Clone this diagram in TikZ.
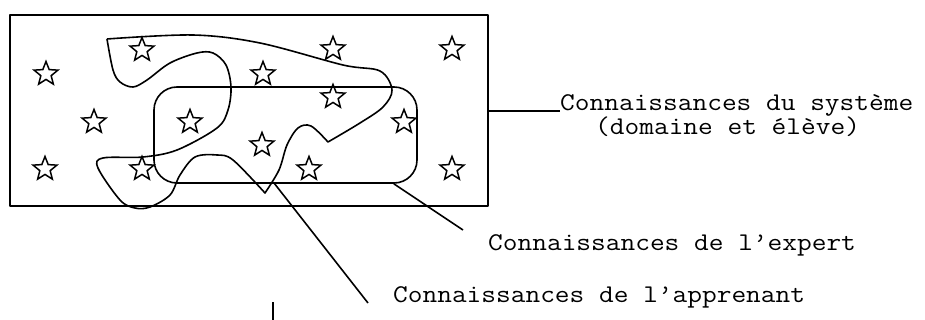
\documentclass[tikz,border=0pt]{standalone}
\usepackage{fontspec}
\newfontfamily\monofont[FakeStretch=1.12]{Latin Modern Mono}
\usetikzlibrary{shapes.geometric}
\tikzset{
  starmark/.style={star, star points=5, star point ratio=2.3, draw, minimum size=25pt, inner sep=0pt, line width=1.5pt},
  lbl/.style={anchor=base west, inner sep=0pt, font=\monofont\fontsize{25.5}{30}\selectfont},
  ln/.style={line width=1.6pt, line join=round},
}
\begin{document}
\begin{tikzpicture}[x=1pt, y=-1pt]
\useasboundingbox (0,0) rectangle (925,320);
% outer rectangle
\node[ln, draw, minimum width=478pt, minimum height=191pt, inner sep=0pt] (outer) at (249,110.5) {};
% expert rounded rectangle
\node[ln, draw, rounded corners=23pt, minimum width=263pt, minimum height=96pt, inner sep=0pt] (inner) at (285.5,135) {};
% stars
\foreach \p [count=\i] in {(142,50),(333,49),(452,49),(46,74),(263,74),(333,97),(94,122),(190,122),(404,122),(262,145),(45,169),(142,169),(309,169),(452,169)}
  \node[starmark] (s\i) at \p {};
% learner blob
\draw[ln] plot[smooth, tension=0.55] coordinates {(107,39) (193,35) (260,43) (343,65) (380,71) (392,90) (383,107) (360,123) (328,142)}
  -- plot[smooth, tension=0.55] coordinates {(328,142) (311,126) (298,128) (287,145) (279,170) (265,193)}
  -- plot[smooth, tension=0.55] coordinates {(265,193) (233,160) (217,155) (195,157) (180,175) (170,195) (150,207) (135,208) (120,200) (98,168) (103,158) (143,157) (177,150) (217,128) (228,110) (231,87) (226,65) (213,53) (197,53) (170,63) (147,80) (133,87) (120,82) (113,70) (107,39)};
% labels
\node[lbl] (sys1) at (560,111) {Connaissances du système};
\node[lbl] (sys2) at (595,135) {(domaine et élève)};
\node[lbl] (expert) at (488,251) {Connaissances de l’expert};
\node[lbl] (learner) at (393,302) {Connaissances de l’apprenant};
% connectors
\coordinate (learnerpt) at (274,183);
\coordinate (learnerend) at (368,303);
\coordinate (expertend) at (463,230);
\coordinate (ticktop) at (273,302);
\coordinate (tickbot) at (273,320);
\draw[ln] (outer.east |- sys1.base west) -- (sys1.base west);
\draw[ln] ([xshift=-24pt]inner.south east) -- (expertend);
\draw[ln] (learnerpt) -- (learnerend);
\draw[ln] (ticktop) -- (tickbot);
\end{tikzpicture}
\end{document}
